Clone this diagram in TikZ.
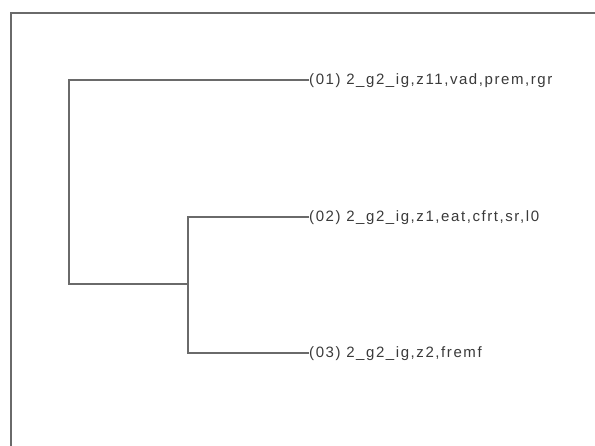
\documentclass[tikz,border=0pt]{standalone}
\usepackage{fontspec}
\setmainfont{Liberation Sans}[LetterSpace=10.5]
\definecolor{ln}{HTML}{6A6A6A}
\definecolor{tx}{HTML}{3A3A3A}
\begin{document}
\begin{tikzpicture}[x=1pt,y=-1pt,
  edge/.style={draw=ln,line width=1.3pt},
  lbl/.style={anchor=west,inner sep=0pt,text=tx,font=\fontsize{15}{17}\selectfont}]
\useasboundingbox (0,0) rectangle (595,446);
\fill[white] (0,0) rectangle (595,446);
\draw[edge] (11,446) -- (11,13) -- (595,13);
\node[lbl] (l1) at (309,81) {(01) 2\_g2\_ig,z11,vad,prem,rgr};
\node[lbl] (l2) at (309,218) {(02) 2\_g2\_ig,z1,eat,cfrt,sr,l0};
\node[lbl] (l3) at (309,354) {(03) 2\_g2\_ig,z2,fremf};
\coordinate (r) at (69,284);
\coordinate (n) at (188,284);
\draw[edge] (l1.west |- 0,80) -- (69,80) -- (r) -- (n);
\draw[edge] (l2.west |- 0,217) -- (188,217) -- (188,353) -- (l3.west |- 0,353);
\end{tikzpicture}
\end{document}
